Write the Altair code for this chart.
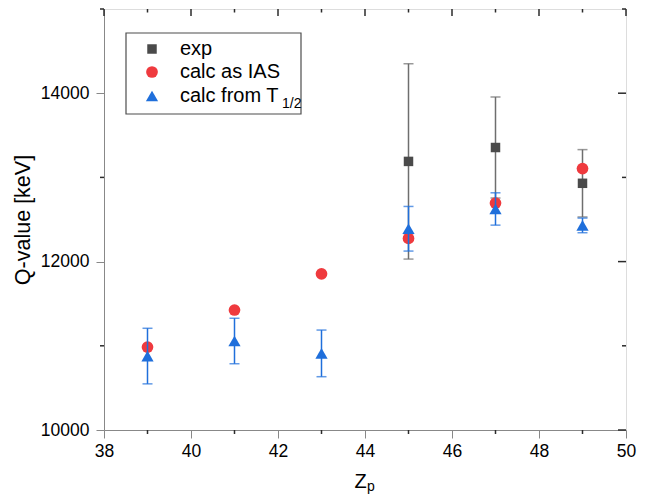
import altair as alt
import pandas as pd

# ---- data ----
Z_ALL = [39, 41, 43, 45, 47, 49]
EXP_Z = [45, 47, 49]
EXP_Q = [13190, 13355, 12930]
EXP_ERR = [1160, 600, 400]
IAS_Q = [10985, 11425, 11855, 12275, 12695, 13105]
T12_Q = [10878, 11057, 10910, 12390, 12625, 12430]
T12_ERR = [330, 270, 277, 265, 192, 87]

X_MAJOR = [38, 40, 42, 44, 46, 48, 50]
X_MINOR = [39, 41, 43, 45, 47, 49]
Y_MAJOR = [10000, 12000, 14000]
Y_MINOR = [11000, 13000, 15000]
LEGEND_LABELS = ["exp", "calc as IAS", "calc from T"]

GRAY = "#4a4a4a"
GRAY_BAR = "#6e6e6e"
RED = "#ef3a3e"
BLUE = "#1f6fdb"
AX = "#2b2b2b"
FONT = "Liberation Sans"

W, H = 522, 421

exp_df = pd.DataFrame({"Z": EXP_Z, "Q": EXP_Q, "err": EXP_ERR})
exp_df["lo"] = exp_df["Q"] - exp_df["err"]
exp_df["hi"] = exp_df["Q"] + exp_df["err"]
ias_df = pd.DataFrame({"Z": Z_ALL, "Q": IAS_Q})
t_df = pd.DataFrame({"Z": Z_ALL, "Q": T12_Q, "err": T12_ERR})
t_df["lo"] = t_df["Q"] - t_df["err"]
t_df["hi"] = t_df["Q"] + t_df["err"]

xs = alt.Scale(domain=[38, 50], nice=False, zero=False)
ys = alt.Scale(domain=[10000, 15000], nice=False, zero=False)

x_axis = alt.Axis(values=X_MAJOR, title="Z", tickSize=8, labelPadding=4,
                  labelFontSize=17.5, titleFontSize=20, titleFontWeight="normal",
                  grid=False, labelFlush=False, titleX=256, titleY=57,
                  titleBaseline="alphabetic", format="d")
y_axis = alt.Axis(values=Y_MAJOR, title="Q-value [keV]", tickSize=8,
                  labelPadding=7, labelFontSize=17.5, titleFontSize=21.5,
                  titleFontWeight="normal", grid=False, titlePadding=6, format="d")


def NX(f):
    return alt.X(f, type="quantitative", scale=xs, axis=x_axis)


def NY(f):
    return alt.Y(f, type="quantitative", scale=ys, axis=y_axis)


# exp series
exp_rule = alt.Chart(exp_df).mark_rule(color=GRAY_BAR, strokeWidth=1.5).encode(
    x=NX("Z"), y=NY("lo"), y2="hi:Q")
exp_cap_lo = alt.Chart(exp_df).mark_tick(color=GRAY_BAR, orient="horizontal", size=10, thickness=1.5).encode(
    x=NX("Z"), y=NY("lo"))
exp_cap_hi = alt.Chart(exp_df).mark_tick(color=GRAY_BAR, orient="horizontal", size=10, thickness=1.5).encode(
    x=NX("Z"), y=NY("hi"))
exp_pts = alt.Chart(exp_df).mark_point(shape="square", filled=True, size=90, color=GRAY, opacity=1).encode(
    x=NX("Z"), y=NY("Q"))

ias_pts = alt.Chart(ias_df).mark_point(shape="circle", filled=True, size=137, color=RED, opacity=1).encode(
    x=NX("Z"), y=NY("Q"))

t_rule = alt.Chart(t_df).mark_rule(color=BLUE, strokeWidth=1.5).encode(
    x=NX("Z"), y=NY("lo"), y2="hi:Q")
t_cap_lo = alt.Chart(t_df).mark_tick(color=BLUE, orient="horizontal", size=10, thickness=1.5).encode(
    x=NX("Z"), y=NY("lo"))
t_cap_hi = alt.Chart(t_df).mark_tick(color=BLUE, orient="horizontal", size=10, thickness=1.5).encode(
    x=NX("Z"), y=NY("hi"))
t_pts = alt.Chart(t_df).mark_point(shape="triangle-up", filled=True, size=150, color=BLUE, opacity=1).encode(
    x=NX("Z"), y=NY("Q"))

# minor / mirrored ticks
xmin_df = pd.DataFrame({"Z": X_MINOR})
xmaj_df = pd.DataFrame({"Z": X_MAJOR})
ymin_df = pd.DataFrame({"Q": Y_MINOR})
ymaj_df = pd.DataFrame({"Q": Y_MAJOR})
tk = dict(color=AX, strokeWidth=1.5)
ticks = [
    alt.Chart(xmin_df).mark_rule(**tk).encode(x=NX("Z"), y=alt.value(H), y2=alt.value(H + 4)),
    alt.Chart(ymin_df).mark_rule(**tk).encode(y=NY("Q"), x=alt.value(-4), x2=alt.value(0)),
    alt.Chart(xmaj_df).mark_rule(**tk).encode(x=NX("Z"), y=alt.value(0), y2=alt.value(7)),
    alt.Chart(xmin_df).mark_rule(**tk).encode(x=NX("Z"), y=alt.value(0), y2=alt.value(3.5)),
    alt.Chart(ymaj_df).mark_rule(**tk).encode(y=NY("Q"), x=alt.value(W - 8), x2=alt.value(W)),
    alt.Chart(ymin_df).mark_rule(**tk).encode(y=NY("Q"), x=alt.value(W - 4), x2=alt.value(W)),
]

# subscript of x title
one = pd.DataFrame({"a": [0]})
zp = alt.Chart(one).mark_text(text="p", fontSize=14, font=FONT, align="left",
                              baseline="alphabetic", color="black").encode(
    x=alt.value(263), y=alt.value(H + 61))

# legend
leg_rows = [40, 63, 87]
leg_box = alt.Chart(one).mark_rect(fill="white", stroke="#4d4d4d", strokeWidth=1.2).encode(
    x=alt.value(22), x2=alt.value(197), y=alt.value(24), y2=alt.value(105))
leg_sym = [
    alt.Chart(one).mark_point(shape="square", filled=True, size=90, color=GRAY, opacity=1).encode(
        x=alt.value(48), y=alt.value(leg_rows[0])),
    alt.Chart(one).mark_point(shape="circle", filled=True, size=137, color=RED, opacity=1).encode(
        x=alt.value(48), y=alt.value(leg_rows[1])),
    alt.Chart(one).mark_point(shape="triangle-up", filled=True, size=150, color=BLUE, opacity=1).encode(
        x=alt.value(48), y=alt.value(leg_rows[2])),
]
leg_txt = [
    alt.Chart(one).mark_text(text=lab, fontSize=20, font=FONT, align="left", baseline="middle",
                             color="black").encode(x=alt.value(76), y=alt.value(r))
    for lab, r in zip(LEGEND_LABELS, leg_rows)
]
leg_sub = alt.Chart(one).mark_text(text="1/2", fontSize=14, font=FONT, align="left",
                                   baseline="middle", color="black").encode(
    x=alt.value(178), y=alt.value(leg_rows[2] + 8))

chart = alt.layer(
    exp_rule, exp_cap_lo, exp_cap_hi, exp_pts, ias_pts,
    t_rule, t_cap_lo, t_cap_hi, t_pts,
    *ticks, zp, leg_box, *leg_sym, *leg_txt, leg_sub,
).properties(
    width=W, height=H,
    autosize=alt.AutoSizeParams(type="none"),
    padding={"left": 96, "top": 1, "right": 14, "bottom": 66},
).configure_view(
    stroke=AX, strokeWidth=1.5
).configure_axis(
    domainColor=AX, domainWidth=1.5, tickColor=AX, tickWidth=1.5,
    labelFont=FONT, titleFont=FONT, labelColor="black", titleColor="black",
    titleFontWeight="normal",
).configure(background="white")

chart.save("out.html", embed_options={"renderer": "svg", "actions": False})
